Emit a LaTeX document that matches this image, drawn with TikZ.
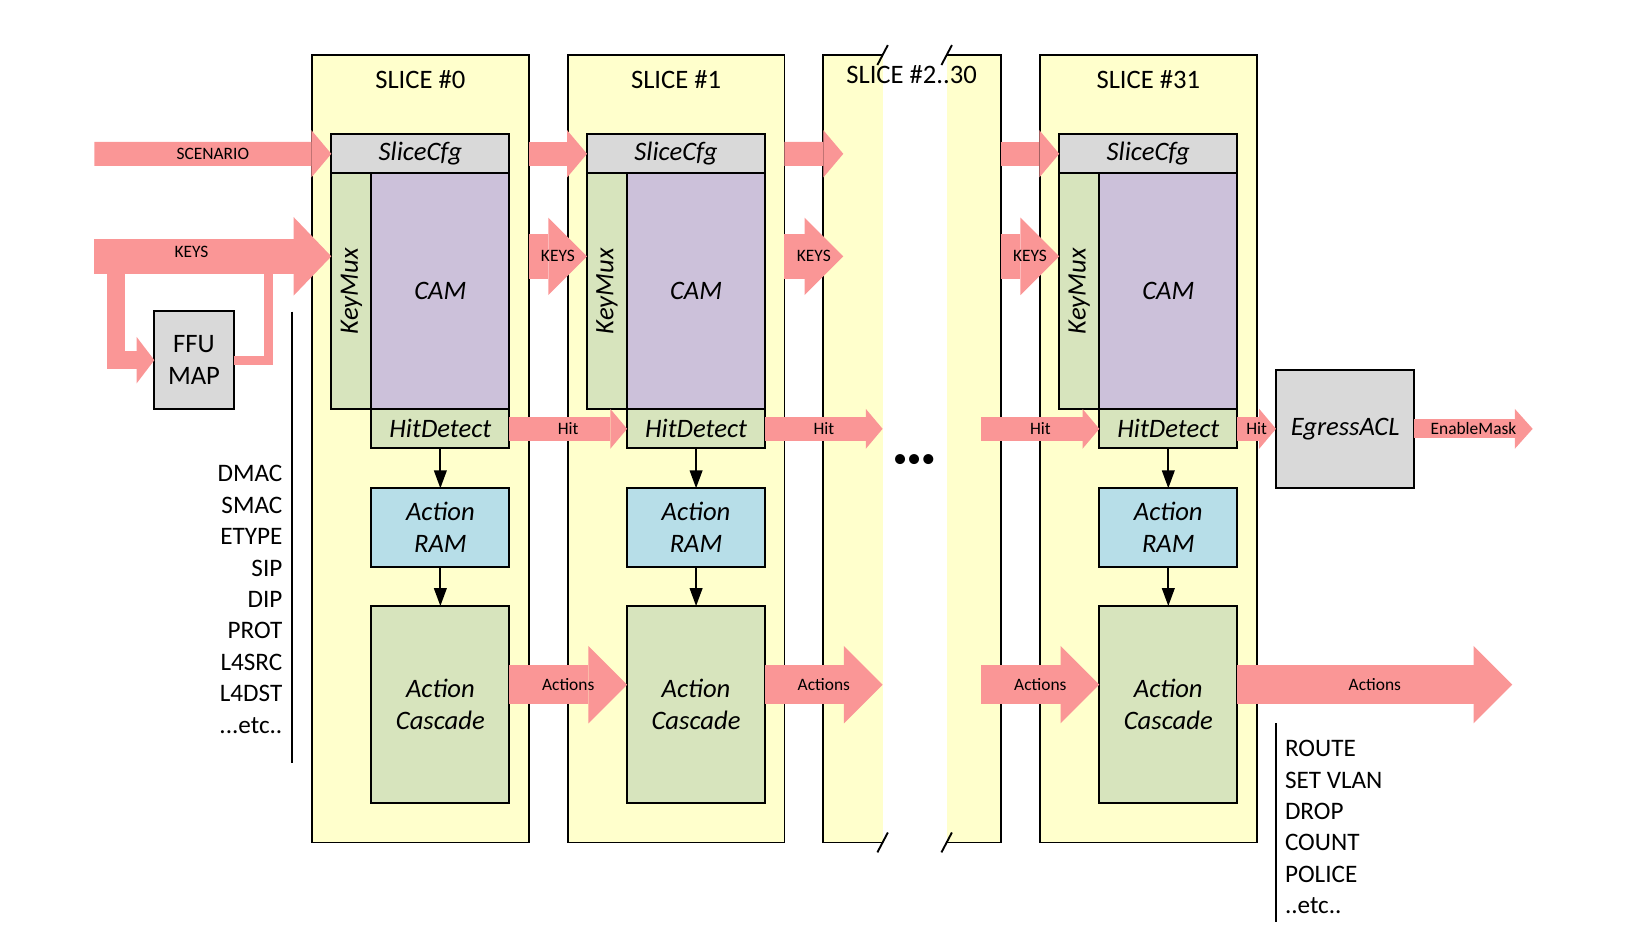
\documentclass[tikz,border=0pt]{standalone}
\usepackage{fontspec}
\setmainfont{Carlito}
\usetikzlibrary{positioning, arrows.meta}

\definecolor{sliceyellow}{RGB}{255,255,204}
\definecolor{cfggrey}{RGB}{217,217,217}
\definecolor{muxgreen}{RGB}{215,228,189}
\definecolor{campurple}{RGB}{204,193,218}
\definecolor{ramblue}{RGB}{183,222,232}
\definecolor{arrowpink}{RGB}{250,150,150}

\newcommand{\boxfont}{\fontsize{12.7}{15}\selectfont}
\newcommand{\listfont}{\fontsize{12}{15}\selectfont}
\newcommand{\tagfont}{\fontsize{8.3}{10}\selectfont}

\begin{document}
\begin{tikzpicture}[
        x=0.5pt, y=-0.5pt,
        every node/.style={inner sep=0pt, outer sep=0pt},
        box/.style={draw, line width=0.9pt, rectangle},
        slicebox/.style={box, fill=sliceyellow, anchor=north west, minimum width=103.35pt, minimum height=375.5pt},
        slicefill/.style={fill=sliceyellow, anchor=north west, minimum height=375.5pt},
        cfgbox/.style={box, fill=cfggrey, minimum width=84.9pt, minimum height=18.6pt, font=\boxfont\itshape},
        muxbox/.style={box, fill=muxgreen, minimum width=19.1pt, minimum height=112.55pt},
        cambox/.style={box, fill=campurple, minimum width=65.8pt, minimum height=112.55pt, font=\boxfont\itshape},
        hitbox/.style={box, fill=muxgreen, minimum width=65.8pt, minimum height=18.6pt, font=\boxfont\itshape},
        rambox/.style={box, fill=ramblue, minimum width=65.8pt, minimum height=37.4pt, font=\boxfont\itshape, align=center},
        cascbox/.style={box, fill=muxgreen, minimum width=65.8pt, minimum height=93.75pt, font=\boxfont\itshape, align=center},
        greybox/.style={box, fill=cfggrey, anchor=north west, font=\boxfont, align=center},
        title/.style={font=\boxfont},
        border/.style={line width=0.9pt},
        thinline/.style={line width=0.8pt},
        blackarrow/.style={line width=0.9pt, -{Triangle[length=8.5pt, width=6pt]}},
        tag/.style={font=\tagfont, text=black},
        scenarrow/.style={draw=arrowpink, line width=11.5pt, -{Triangle[length=9.5pt, width=22.5pt, line width=0pt]}},
        keyarrow/.style={draw=arrowpink, line width=21.5pt, -{Triangle[length=18.5pt, width=37pt, line width=0pt]}},
        bigkeyarrow/.style={draw=arrowpink, line width=17pt, -{Triangle[length=18pt, width=37.5pt, line width=0pt]}},
        hitarrow/.style={draw=arrowpink, line width=11.5pt, -{Triangle[length=8pt, width=19pt, line width=0pt]}},
        maskarrow/.style={draw=arrowpink, line width=9pt, -{Triangle[length=8.5pt, width=19pt, line width=0pt]}},
        actarrow/.style={draw=arrowpink, line width=18.8pt, -{Triangle[length=18.5pt, width=37pt, line width=0pt]}},
        branch/.style={draw=arrowpink, line width=8.5pt, -{Triangle[length=8.5pt, width=22.3pt, line width=0pt]}},
        ffuline/.style={draw=arrowpink, line width=4.3pt}
    ]
    \useasboundingbox (0,0) rectangle (1568,894);

    %% ---- Slices ----
    \node[slicebox] (s0) at (297.6,52.5) {};
    \node[slicebox] (s1) at (541.5,52.5) {};
    \node[slicefill, minimum width=28.25pt] (sxa) at (785.3,52.5) {};
    \node[slicefill, minimum width=25.75pt] (sxb) at (902.9,52.5) {};
    \node[slicebox] (s31) at (991.9,52.5) {};
    \draw[border] (sxa.north east) -- (sxa.north west) -- (sxa.south west) -- (sxa.south east);
    \draw[border] (sxb.north west) -- (sxb.north east) -- (sxb.south east) -- (sxb.south west);

    \node[title] at ([yshift=-11.9pt] s0.north) {SLICE \#0};
    \node[title] at ([yshift=-11.9pt] s1.north) {SLICE \#1};
    \node[title] at (869.5,70.9) {SLICE \#2..30};
    \node[title] at ([yshift=-11.9pt] s31.north) {SLICE \#31};

    %% ---- Slice #0 ----
    \node[cfgbox, below right=37.8pt and 9.2pt of s0.north west] (cfg0) {SliceCfg};
    \node[muxbox, below right=0pt and 0pt of cfg0.south west] (mux0) {};
    \node[cambox, below left=0pt and 0pt of cfg0.south east] (cam0) {CAM};
    \node[hitbox, below=0pt of cam0] (hit0) {HitDetect};
    \node[rambox, below=19.05pt of hit0] (ram0) {Action\\RAM};
    \node[cascbox, below=18.75pt of ram0] (casc0) {Action\\Cascade};
    \node[rotate=90, font=\boxfont\itshape] at (mux0) {KeyMux};

    %% ---- Slice #1 ----
    \node[cfgbox, below right=37.8pt and 9.2pt of s1.north west] (cfg1) {SliceCfg};
    \node[muxbox, below right=0pt and 0pt of cfg1.south west] (mux1) {};
    \node[cambox, below left=0pt and 0pt of cfg1.south east] (cam1) {CAM};
    \node[hitbox, below=0pt of cam1] (hit1) {HitDetect};
    \node[rambox, below=19.05pt of hit1] (ram1) {Action\\RAM};
    \node[cascbox, below=18.75pt of ram1] (casc1) {Action\\Cascade};
    \node[rotate=90, font=\boxfont\itshape] at (mux1) {KeyMux};

    %% ---- Slice #31 ----
    \node[cfgbox, below right=37.8pt and 9.2pt of s31.north west] (cfg31) {SliceCfg};
    \node[muxbox, below right=0pt and 0pt of cfg31.south west] (mux31) {};
    \node[cambox, below left=0pt and 0pt of cfg31.south east] (cam31) {CAM};
    \node[hitbox, below=0pt of cam31] (hit31) {HitDetect};
    \node[rambox, below=19.05pt of hit31] (ram31) {Action\\RAM};
    \node[cascbox, below=18.75pt of ram31] (casc31) {Action\\Cascade};
    \node[rotate=90, font=\boxfont\itshape] at (mux31) {KeyMux};

    %% ---- Side blocks ----
    \node[greybox, minimum width=37.8pt, minimum height=46.9pt] (ffu) at (147.2,296.6) {FFU\\MAP};
    \node[greybox, minimum width=65.95pt, minimum height=56.1pt, font=\boxfont\itshape] (egress) at (1217,352.9) {EgressACL};

    %% ---- Field lists ----
    \node[font=\listfont, align=right, anchor=north east] (keylist) at (269.3,443.8)
        {DMAC\\SMAC\\ETYPE\\SIP\\DIP\\PROT\\L4SRC\\L4DST\\...etc..};
    \node[font=\listfont, align=left, anchor=north west] (actlist) at (1225.6,706)
        {ROUTE\\SET VLAN\\DROP\\COUNT\\POLICE\\..etc..};
    \draw[thinline] (278.8,297.3) -- (278.8,728);
    \draw[thinline] (1217,689.9) -- (1217,879);

    %% ---- Inside slices ----
    \draw[blackarrow] (hit0) -- (ram0);
    \draw[blackarrow] (ram0) -- (casc0);
    \draw[blackarrow] (hit1) -- (ram1);
    \draw[blackarrow] (ram1) -- (casc1);
    \draw[blackarrow] (hit31) -- (ram31);
    \draw[blackarrow] (ram31) -- (casc31);

    %% ---- Free ends ----
    \coordinate (scenin) at (90,146.7);
    \coordinate (keysin) at (90,244.5);
    \coordinate (keysdrop) at (110.35,244.5);
    \coordinate (ffuret) at (256,244.5);
    \coordinate (scenout) at (804.3,146.7);
    \coordinate (keysout) at (804.3,244.5);
    \coordinate (hitin) at (936,409);
    \coordinate (actin) at (936,653);
    \coordinate (maskout) at (1461.8,409);
    \coordinate (actout) at (1442.4,653);

    %% ---- SCENARIO ----
    \draw[scenarrow] (scenin) -- (cfg0.west) node[tag, midway] {SCENARIO};
    \draw[scenarrow] (cfg0.west -| s0.east) -- (cfg1.west);
    \draw[scenarrow] (cfg1.west -| s1.east) -- (scenout);
    \draw[scenarrow] (cfg31.west -| sxb.east) -- (cfg31.west);

    %% ---- KEYS ----
    \draw[branch] (keysdrop) |- (ffu.west);
    \draw[ffuline] (ffu.east) -| (ffuret);
    \draw[bigkeyarrow] (keysin) -- (keysin -| mux0.west) node[tag, pos=0.41, yshift=2pt] {KEYS};
    \draw[keyarrow] (keysin -| s0.east) -- (keysin -| mux1.west) node[tag, midway] {KEYS};
    \draw[keyarrow] (keysin -| s1.east) -- (keysout) node[tag, midway] {KEYS};
    \draw[keyarrow] (keysin -| sxb.east) -- (keysin -| mux31.west) node[tag, midway] {KEYS};

    %% ---- Hit ----
    \draw[hitarrow] (hit0) -- (hit1) node[tag, midway] {Hit};
    \draw[hitarrow] (hit1.east) -- (hit1.east -| sxa.east) node[tag, midway] {Hit};
    \draw[hitarrow] (hitin) -- (hit31.west) node[tag, midway] {Hit};
    \draw[hitarrow] (hit31) -- (egress) node[tag, midway] {Hit};
    \draw[maskarrow] (egress) -- (maskout) node[tag, midway] {EnableMask};

    %% ---- Actions ----
    \draw[actarrow] (actin -| casc0.east) -- (actin -| casc1.west) node[tag, midway] {Actions};
    \draw[actarrow] (actin -| casc1.east) -- (actin -| sxa.east) node[tag, midway] {Actions};
    \draw[actarrow] (actin) -- (actin -| casc31.west) node[tag, midway] {Actions};
    \draw[actarrow] (actin -| casc31.east) -- (actout) node[tag, midway] {Actions};

    %% ---- Break marks ----
    \draw[border] ([shift={(-5,9.5)}] sxa.north east) -- ([shift={(5,-9.5)}] sxa.north east);
    \draw[border] ([shift={(-5,9.5)}] sxb.north west) -- ([shift={(5,-9.5)}] sxb.north west);
    \draw[border] ([shift={(-5,9.5)}] sxa.south east) -- ([shift={(5,-9.5)}] sxa.south east);
    \draw[border] ([shift={(-5,9.5)}] sxb.south west) -- ([shift={(5,-9.5)}] sxb.south west);
    \node[font=\fontsize{13.5}{13.5}\selectfont] (dots) at (872,439.4) {•••};

\end{tikzpicture}
\end{document}
